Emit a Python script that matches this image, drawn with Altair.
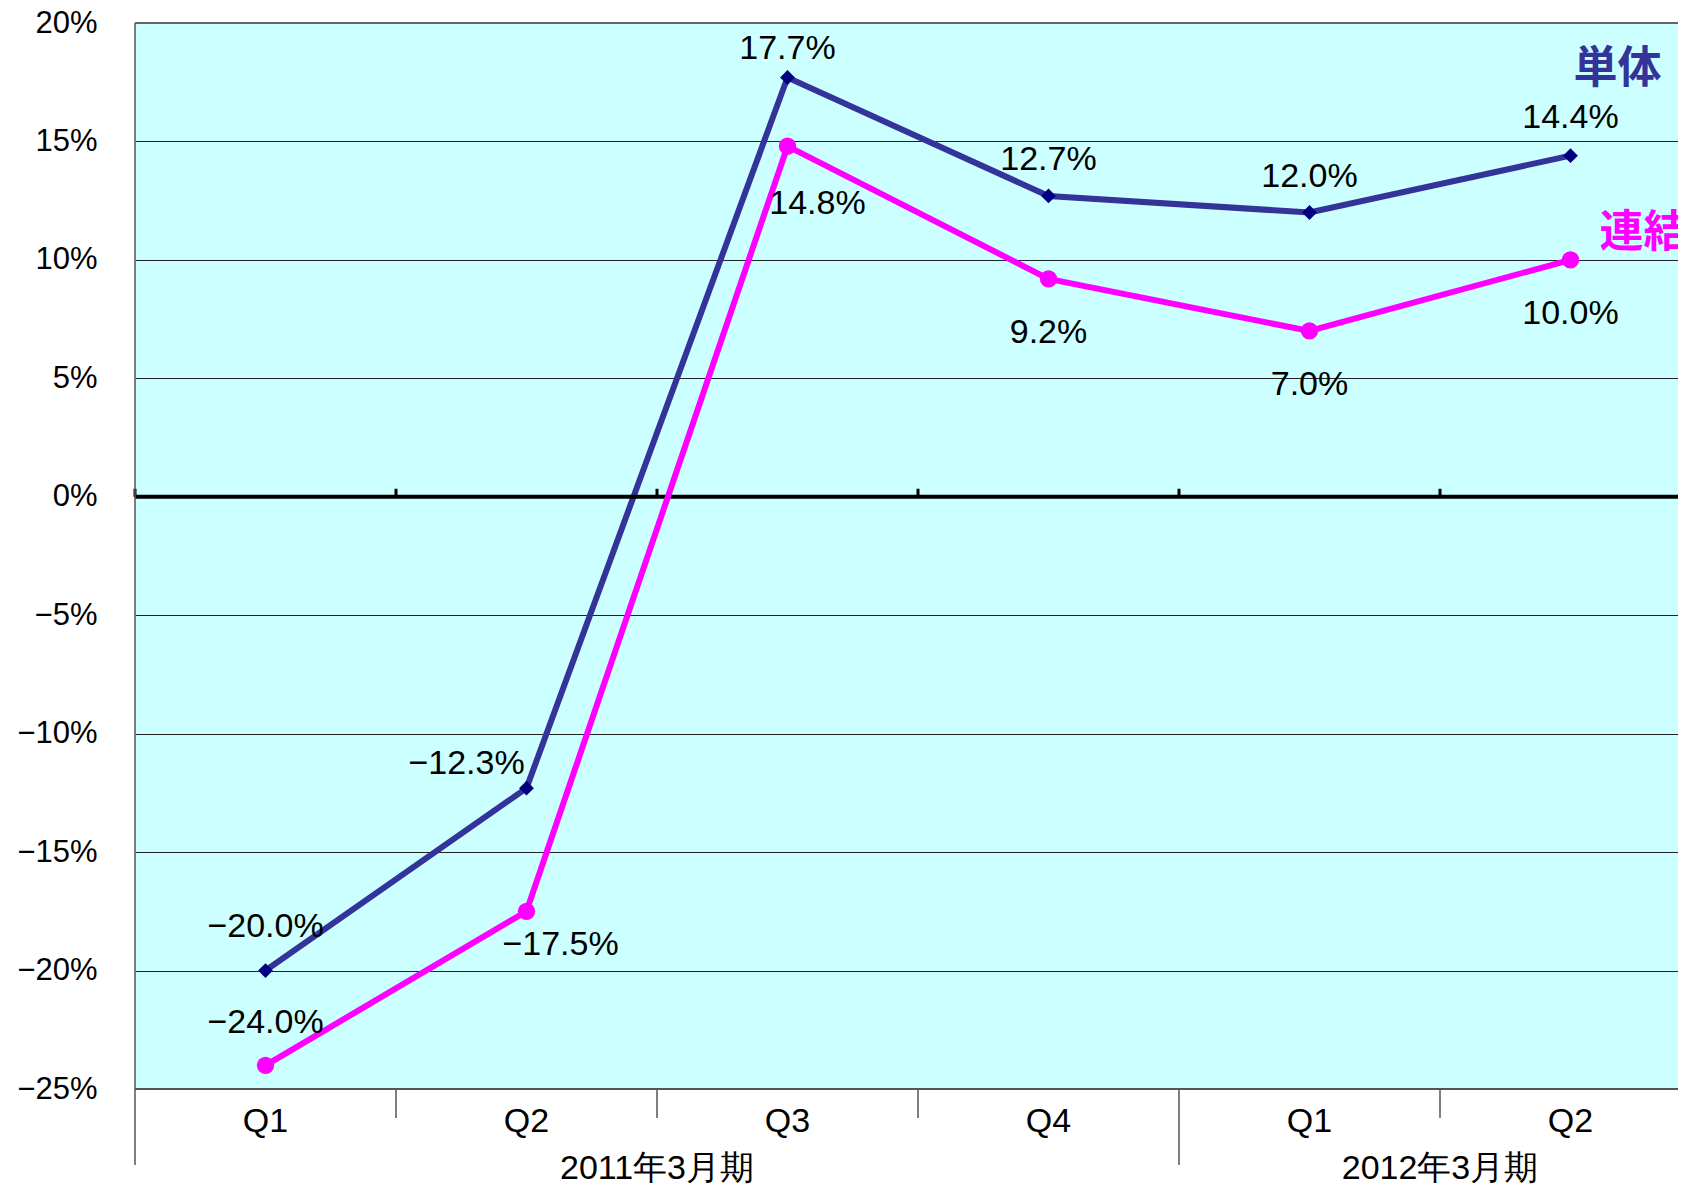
import pandas as pd
import altair as alt

quarters = ["Q1", "Q2", "Q3", "Q4", "Q1", "Q2"]
years = ["2011年3月期", "2012年3月期"]
tantai = [-20.0, -12.3, 17.7, 12.7, 12.0, 14.4]
renketsu = [-24.0, -17.5, 14.8, 9.2, 7.0, 10.0]

# label offsets (dx, dy) in pixels
tantai_off = [(0, -44), (-60, -24), (0, -28), (0, -36), (0, -36), (0, -38)]
renketsu_off = [(0, -42), (34, 34), (30, 58), (0, 54), (0, 54), (0, 54)]

FONT = "Liberation Sans"
BAND = 261
W, H = 1543, 1066
XMAX = W / BAND
PX = 45 / H  # data units per pixel

df = pd.DataFrame({"x": [i + 0.5 for i in range(6)], "q": quarters,
                   "tantai": tantai, "renketsu": renketsu})

xs = alt.Scale(domain=[0, XMAX], nice=False, zero=False)
ys = alt.Scale(domain=[-25, 20], nice=False, zero=False)
X = alt.X("x:Q", scale=xs, axis=None)

l1 = alt.Chart(df).mark_line(color="#333399", strokeWidth=6).encode(
    x=X, y=alt.Y("tantai:Q", scale=ys, axis=alt.Axis(
        values=[20, 15, 10, 5, 0, -5, -10, -15, -20, -25], grid=True, gridColor="#222222",
        domain=False, ticks=False, labelFont=FONT, labelFontSize=31, labelColor="black",
        labelPadding=38, labelExpr="replace(datum.value + '%', '-', '−')", title=None)))
p1 = alt.Chart(df).mark_point(shape="diamond", filled=True, color="#000080", size=220, opacity=1).encode(
    x=X, y=alt.Y("tantai:Q", scale=ys))
l2 = alt.Chart(df).mark_line(color="#FF00FF", strokeWidth=6).encode(
    x=X, y=alt.Y("renketsu:Q", scale=ys))
p2 = alt.Chart(df).mark_circle(color="#FF00FF", size=300, opacity=1).encode(
    x=X, y=alt.Y("renketsu:Q", scale=ys))

zero = alt.Chart(pd.DataFrame({"v": [0]})).mark_rule(color="black", strokeWidth=4).encode(
    y=alt.Y("v:Q", scale=ys))
zt = alt.Chart(pd.DataFrame({"b": [0, 1, 2, 3, 4, 5], "lo": [0.0] * 6, "hi": [8 * PX] * 6})).mark_rule(
    color="black", strokeWidth=3).encode(x=alt.X("b:Q", scale=xs, axis=None),
                                        y=alt.Y("lo:Q", scale=ys), y2="hi:Q")
seps = alt.Chart(pd.DataFrame({"b": [0, 1, 2, 3, 4, 5],
                               "lo": [-25 - 76 * PX, -25 - 29 * PX, -25 - 29 * PX, -25 - 29 * PX,
                                      -25 - 76 * PX, -25 - 29 * PX],
                               "hi": [20, -25, -25, -25, -25, -25]})).mark_rule(
    color="#555555", strokeWidth=1.5).encode(x=alt.X("b:Q", scale=xs, axis=None),
                                             y=alt.Y("lo:Q", scale=ys), y2="hi:Q")
top = alt.Chart(pd.DataFrame({"v": [20]})).mark_rule(color="#666666", strokeWidth=2).encode(
    y=alt.Y("v:Q", scale=ys))
bottom = alt.Chart(pd.DataFrame({"v": [-25]})).mark_rule(color="#555555", strokeWidth=2).encode(
    y=alt.Y("v:Q", scale=ys))

qlab = alt.Chart(df.assign(yy=-25 - 33 * PX)).mark_text(
    font=FONT, fontSize=34, color="black").encode(x=X, y=alt.Y("yy:Q", scale=ys), text="q:N")
ylab = alt.Chart(pd.DataFrame({"x": [2.0, 5.0], "t": years, "yy": [-25 - 80 * PX] * 2})).mark_text(
    font=FONT, fontSize=34, color="black").encode(x=X, y=alt.Y("yy:Q", scale=ys), text="t:N")

labels = []
for vals, offs in ((tantai, tantai_off), (renketsu, renketsu_off)):
    for i, (v, (dx, dy)) in enumerate(zip(vals, offs)):
        t = ("%.1f%%" % v).replace("-", "−")
        labels.append(alt.Chart(pd.DataFrame({"x": [i + 0.5], "v": [v], "t": [t]})).mark_text(
            font=FONT, fontSize=34, color="black", dx=dx, dy=dy).encode(
            x=X, y=alt.Y("v:Q", scale=ys), text="t:N"))

n1 = alt.Chart(pd.DataFrame({"x": [5.68], "v": [18.0], "t": ["単体"]})).mark_text(
    font="Noto Sans CJK JP", fontSize=44, fontWeight="bold", color="#333399").encode(
    x=X, y=alt.Y("v:Q", scale=ys), text="t:N")
n2 = alt.Chart(pd.DataFrame({"x": [5.78], "v": [11.1], "t": ["連結"]})).mark_text(
    font="Noto Sans CJK JP", fontSize=44, fontWeight="bold", color="#FF00FF").encode(
    x=X, y=alt.Y("v:Q", scale=ys), text="t:N")

chart = alt.layer(l1, zero, zt, seps, top, bottom, qlab, ylab, l2, p1, p2, *labels, n1, n2).properties(
    width=W, height=H, autosize=alt.AutoSizeParams(type="none"),
    padding={"left": 127, "top": 15, "right": 0, "bottom": 96}
).configure_view(stroke=None, fill="#CCFFFF")

chart.save("out.html", embed_options={"renderer": "svg", "actions": False})
